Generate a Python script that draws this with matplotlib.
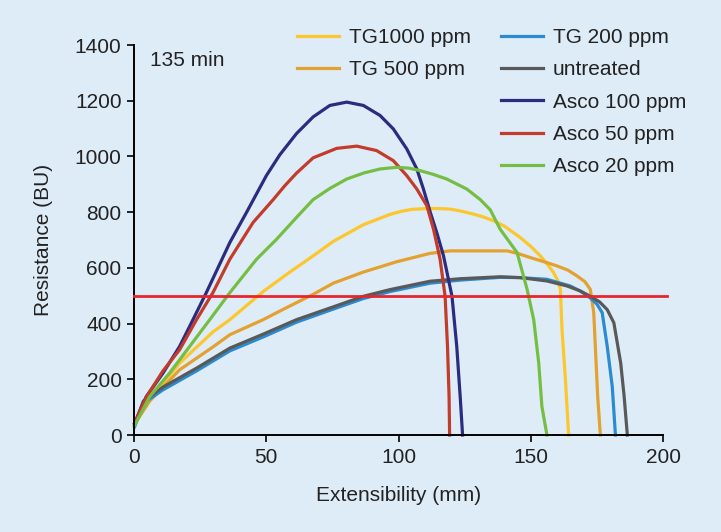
import matplotlib
matplotlib.use("Agg")
import matplotlib.pyplot as plt

plt.rcParams['font.family'] = ['Liberation Sans', 'DejaVu Sans']

# ---- data ----
asco100_x = [0.2, 4.6, 10.9, 17.2, 21.0, 27.3, 36.2, 42.5, 50.0, 55.1, 61.4, 67.7, 74.0, 80.4, 86.7, 93.0, 98.0, 103.1, 106.9, 109.4, 112.0, 114.5, 117.0, 120.2, 122.0, 123.3, 124.2]
asco100_y = [43, 138, 222, 318, 390, 511, 691, 799, 931, 1006, 1082, 1142, 1183, 1195, 1183, 1147, 1099, 1027, 955, 883, 799, 725, 643, 498, 318, 138, 0]

asco50_x = [0.2, 4.6, 10.9, 17.2, 23.6, 29.8, 36.2, 45.0, 52.6, 57.0, 61.4, 67.7, 76.6, 84.2, 91.7, 98.0, 103.1, 106.9, 110.7, 113.2, 115.7, 117.6, 118.5, 119.1, 119.3]
asco50_y = [43, 136, 230, 306, 414, 511, 631, 763, 845, 895, 940, 995, 1029, 1037, 1021, 985, 931, 883, 823, 739, 631, 498, 318, 138, 0]

asco20_x = [0.2, 5.9, 13.4, 21.0, 28.6, 36.2, 46.3, 53.9, 61.4, 67.7, 74.0, 80.4, 87.0, 93.0, 99.3, 104.0, 108.1, 113.0, 118.2, 125.8, 130.9, 134.7, 138.4, 144.8, 148.6, 151.1, 153.0, 154.2, 156.1]
asco20_y = [35, 138, 222, 318, 414, 511, 631, 703, 781, 845, 885, 919, 941, 955, 961, 958, 949, 936, 919, 883, 845, 808, 739, 655, 523, 414, 258, 102, 0]

tg1000_x = [0.2, 5.9, 17.2, 29.8, 36.2, 48.8, 58.9, 67.7, 75.3, 86.7, 96.8, 100.6, 105.0, 110.7, 115.0, 119.5, 124.0, 128.3, 132.0, 135.9, 140.0, 146.0, 150.0, 153.6, 156.5, 158.6, 160.2, 161.2, 161.8, 163.1, 164.3]
tg1000_y = [40, 126, 258, 370, 414, 515, 585, 643, 695, 755, 792, 802, 810, 813, 813, 811, 803, 793, 783, 769, 750, 709, 677, 643, 610, 583, 555, 523, 378, 198, 0]

tg500_x = [0.2, 5.9, 17.2, 29.8, 36.2, 48.8, 55.1, 67.7, 75.3, 86.7, 99.3, 111.9, 119.5, 130.9, 141.0, 145.0, 149.8, 155.0, 159.9, 164.0, 167.5, 170.5, 172.5, 173.8, 174.4, 175.3, 176.3]
tg500_y = [40, 122, 234, 316, 360, 414, 445, 505, 545, 585, 622, 652, 661, 661, 661, 652, 637, 622, 607, 592, 571, 550, 523, 439, 318, 138, 0]

tg200_x = [0.2, 3.5, 10.9, 23.6, 36.2, 48.8, 61.4, 75.3, 86.7, 96.8, 111.9, 123.3, 138.4, 146.0, 156.1, 164.9, 169.0, 172.5, 175.0, 177.0, 178.9, 180.8, 182.0]
tg200_y = [30, 114, 162, 230, 302, 352, 405, 452, 490, 515, 545, 556, 566, 565, 559, 535, 515, 492, 470, 439, 318, 174, 0]

untreated_x = [0.2, 3.5, 10.9, 23.6, 36.2, 48.8, 61.4, 75.3, 86.7, 96.8, 111.9, 123.3, 138.4, 146.0, 156.1, 163.7, 168.5, 172.5, 176.0, 178.9, 181.4, 184.0, 185.3, 186.5]
untreated_y = [38, 122, 172, 240, 312, 362, 414, 460, 498, 522, 552, 561, 568, 565, 553, 535, 518, 498, 478, 450, 403, 258, 138, 0]

threshold = 500

x_ticks = [0, 50, 100, 150, 200]
y_ticks = [0, 200, 400, 600, 800, 1000, 1200, 1400]

series = [
    ("TG1000 ppm", tg1000_x, tg1000_y, "#fcc72c"),
    ("TG 500 ppm", tg500_x, tg500_y, "#e3a12f"),
    ("TG 200 ppm", tg200_x, tg200_y, "#2b8bd1"),
    ("untreated", untreated_x, untreated_y, "#595959"),
    ("Asco 100 ppm", asco100_x, asco100_y, "#2b2b7f"),
    ("Asco 50 ppm", asco50_x, asco50_y, "#c23b2b"),
    ("Asco 20 ppm", asco20_x, asco20_y, "#76be43"),
]

bg = "#deecf8"
fs = 15
fig = plt.figure(figsize=(7.21, 5.32), dpi=100, facecolor=bg)
ax = fig.add_axes([0.186, 0.1823, 0.7336, 0.7331])
ax.set_facecolor(bg)

handles = {}
for name, xs, ys, c in series:
    ln, = ax.plot(xs, ys, color=c, lw=2.3, solid_joinstyle='round', clip_on=False)
    handles[name] = ln

ax.plot([0, 201.5], [threshold, threshold], color="#e5262e", lw=2.0, clip_on=False, zorder=5)

ax.set_xlim(0, 200)
ax.set_ylim(0, 1400)
ax.set_xticks(x_ticks)
ax.set_yticks(y_ticks)
for s in ['top', 'right']:
    ax.spines[s].set_visible(False)
for s in ['left', 'bottom']:
    ax.spines[s].set_linewidth(1.4)
    ax.spines[s].set_color('black')
ax.tick_params(axis='both', direction='out', length=5, width=1.2, labelsize=fs, colors='black', labelcolor='#222222', pad=4)

ax.set_xlabel("Extensibility (mm)", fontsize=fs, color='#222222', labelpad=14)
ax.set_ylabel("Resistance (BU)", fontsize=fs, color='#222222', labelpad=16)

ax.text(6, 1345, "135 min", fontsize=fs, color='#222222', va='center', ha='left')

col1 = ["TG1000 ppm", "TG 500 ppm"]
col2 = ["TG 200 ppm", "untreated", "Asco 100 ppm", "Asco 50 ppm", "Asco 20 ppm"]
common = dict(frameon=False, fontsize=fs, handlelength=2.0, handletextpad=0.5,
              labelspacing=0.64, borderpad=0, borderaxespad=0, loc='upper left')
leg1 = fig.legend([handles[n] for n in col1], col1,
                  bbox_to_anchor=(297/721, 1 - 28/532), **common)
leg2 = fig.legend([handles[n] for n in col2], col2,
                  bbox_to_anchor=(501/721, 1 - 28/532), **common)
for leg in (leg1, leg2):
    for t in leg.get_texts():
        t.set_color('#222222')

fig.savefig("out.png", dpi=100, facecolor=bg)
